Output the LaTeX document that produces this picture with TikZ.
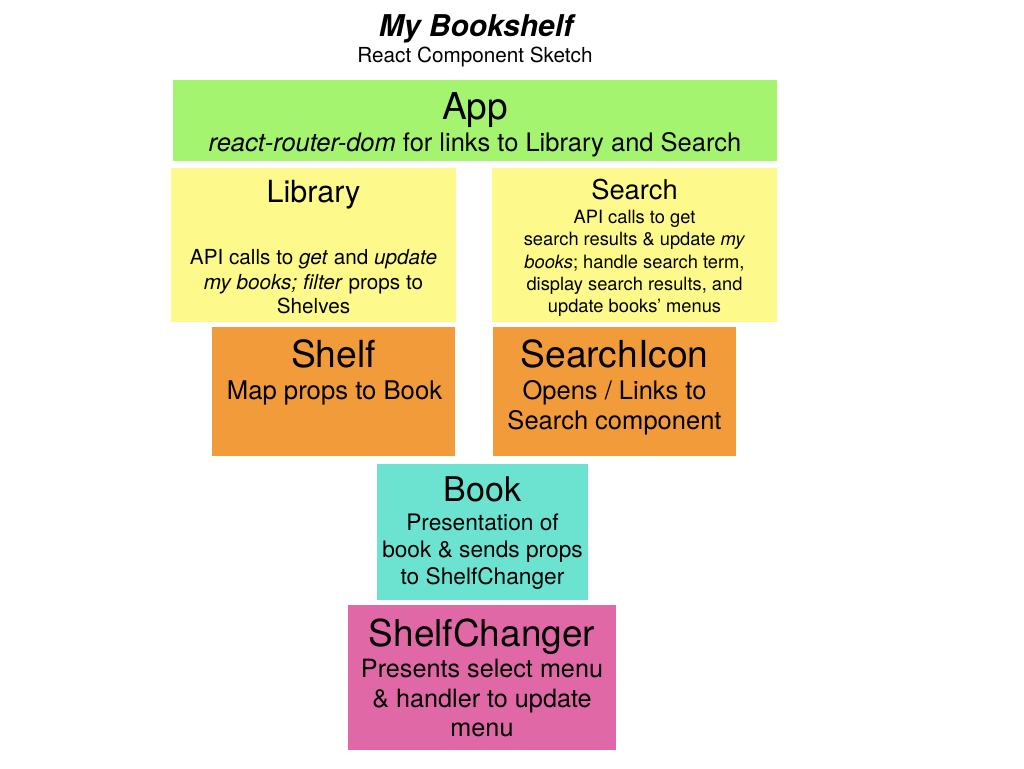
\documentclass[tikz,border=0pt]{standalone}
\usepackage{fontspec}
\setmainfont{TeX Gyre Heros}
\definecolor{appgreen}{HTML}{A4F46F}
\definecolor{libyellow}{HTML}{FDFA8B}
\definecolor{shelforange}{HTML}{F19B3A}
\definecolor{bookteal}{HTML}{6CE3D0}
\definecolor{changerpink}{HTML}{E068A6}
\newcommand{\fs}[1]{\fontsize{#1}{#1}\selectfont}
\tikzset{
  box/.style={anchor=north west, inner sep=0pt, outer sep=0pt, draw=none},
  txt/.style={anchor=base, inner sep=0pt, outer sep=0pt, text=black},
}
\begin{document}
\begin{tikzpicture}[x=1pt, y=-1pt]
\useasboundingbox (0,0) rectangle (1024,768);
\fill[white] (0,0) rectangle (1024,768);
% title
\node[txt, font=\fs{30}\bfseries\itshape] (title) at (476,37) {My Bookshelf};
\node[txt, font=\fs{20.7}] (subtitle) at (475,63) {React Component Sketch};
% boxes
\node[box, fill=appgreen, minimum width=604pt, minimum height=81pt] (app) at (173,80) {};
\node[box, fill=libyellow, minimum width=285pt, minimum height=154pt] (library) at (171,168) {};
\node[box, fill=libyellow, minimum width=285pt, minimum height=154pt] (search) at (492,168) {};
\node[box, fill=shelforange, minimum width=243pt, minimum height=129pt] (shelf) at (212,327) {};
\node[box, fill=shelforange, minimum width=243pt, minimum height=129pt] (searchicon) at (493,327) {};
\node[box, fill=bookteal, minimum width=211pt, minimum height=136pt] (book) at (377,464) {};
\node[box, fill=changerpink, minimum width=268pt, minimum height=145pt] (changer) at (348,605) {};
% App
\node[txt, font=\fs{37}] (appt) at (475,119) {App};
\node[txt, font=\fs{25.5}] (appb) at (475,151) {\textit{react-router-dom} for links to Library and Search};
% Library
\node[txt, font=\fs{30.5}] (libt) at (313.5,202) {Library};
\node[txt, font=\fs{20.7}] (libb1) at (313.5,264) {API calls to \textit{get} and \textit{update}};
\node[txt, font=\fs{20.7}] (libb2) at (313.5,289) {\textit{my books; filter} props to};
\node[txt, font=\fs{20.7}] (libb3) at (313.5,313) {Shelves};
% Search
\node[txt, font=\fs{27.3}] (srht) at (634.5,199) {Search};
\node[txt, font=\fs{18.3}] (srhb1) at (634.5,223) {API calls to get};
\node[txt, font=\fs{18.3}] (srhb2) at (634.5,245) {search results \& update \textit{my}};
\node[txt, font=\fs{18.3}] (srhb3) at (634.5,268) {\textit{books}; handle search term,};
\node[txt, font=\fs{18.3}] (srhb4) at (634.5,290) {display search results, and};
\node[txt, font=\fs{18.3}] (srhb5) at (634.5,312) {update books’ menus};
% Shelf
\node[txt, font=\fs{37.3}] (shelft) at (333.5,367) {Shelf};
\node[txt, font=\fs{25.7}] (shelfb) at (334.5,399) {Map props to Book};
% SearchIcon
\node[txt, font=\fs{37.2}] (sit) at (614.5,367) {SearchIcon};
\node[txt, font=\fs{25.5}] (sib1) at (614.5,399) {Opens / Links to};
\node[txt, font=\fs{25.5}] (sib2) at (614.5,429) {Search component};
% Book
\node[txt, font=\fs{34}] (bookt) at (482.5,501) {Book};
\node[txt, font=\fs{22.7}] (bookb1) at (482.5,530) {Presentation of};
\node[txt, font=\fs{22.7}] (bookb2) at (482.5,557) {book \& sends props};
\node[txt, font=\fs{22.7}] (bookb3) at (482.5,584) {to ShelfChanger};
% ShelfChanger
\node[txt, font=\fs{37}] (chgt) at (482,646) {ShelfChanger};
\node[txt, font=\fs{25.2}] (chgb1) at (482,677) {Presents select menu};
\node[txt, font=\fs{25.2}] (chgb2) at (482,707) {\& handler to update};
\node[txt, font=\fs{25.2}] (chgb3) at (482,736) {menu};
\end{tikzpicture}
\end{document}
